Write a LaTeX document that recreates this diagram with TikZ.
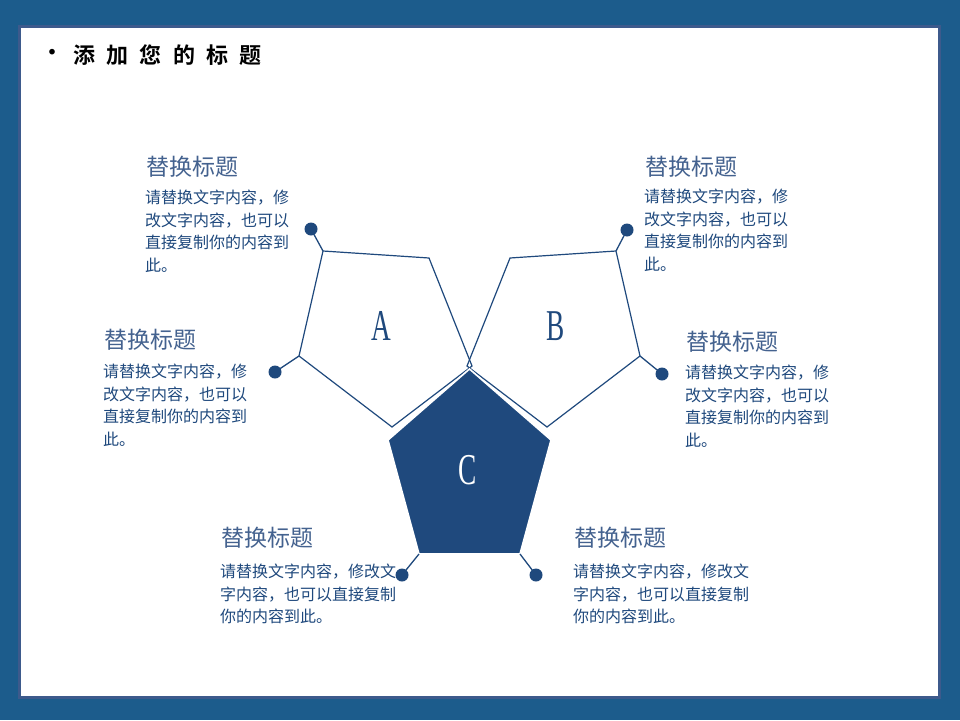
\documentclass[tikz,border=0pt]{standalone}
\usepackage{graphicx}
\usepackage{fontspec}
\setmainfont{Liberation Serif}
\newfontfamily\cjk[BoldFont={Noto Sans CJK SC Bold}]{Noto Sans CJK SC}
\definecolor{dblue}{HTML}{1F497D}
\definecolor{tblue}{HTML}{44628F}
\definecolor{bgblue}{HTML}{1C5C8C}
\definecolor{frameblue}{HTML}{3D5A8C}
\begin{document}
\begin{tikzpicture}[x=1pt,y=-1pt,
  every node/.style={inner sep=0pt,outer sep=0pt},
  pentline/.style={draw=dblue,line width=1.2pt,line join=miter},
  pentfill/.style={fill=dblue,draw=white,line width=1.6pt,line join=miter},
  dotnode/.style={circle,fill=dblue,minimum size=13pt},
  link/.style={draw=dblue,line width=1.3pt},
  ttl/.style={font=\cjk\fontsize{23}{27}\selectfont,text=tblue,anchor=west},
  bodytext/.style={font=\cjk\fontsize{16}{22.7}\selectfont,text=dblue,anchor=north west,align=left},
  letter/.style={font=\fontsize{44}{44}\selectfont}]
\useasboundingbox (0,0) rectangle (960,720);
% background
\fill[bgblue] (0,0) rectangle (960,720);
\fill[frameblue] (18,25) rectangle (941,699);
\fill[white] (21,28) rectangle (938,696);
% main title
\node[anchor=center,font=\cjk\bfseries\fontsize{22}{26}\selectfont] (bullet) at (52,55) {•};
\node[anchor=west,font=\cjk\bfseries\fontsize{22}{26}\selectfont] (maintitle) at (73,55)
  {\spaceskip=11.4pt 添 加 您 的 标 题};
% vertices
\coordinate (a1) at (323,251); \coordinate (a2) at (429,258); \coordinate (a3) at (472,366);
\coordinate (a4) at (392,427); \coordinate (a5) at (299,356);
\coordinate (b1) at (616,251); \coordinate (b2) at (510,258); \coordinate (b3) at (467,366);
\coordinate (b4) at (547,427); \coordinate (b5) at (640,356);
\coordinate (c1) at (469.5,369); \coordinate (c2) at (551,440); \coordinate (c3) at (520,554);
\coordinate (c4) at (419,554); \coordinate (c5) at (388,440);
% pentagons
\draw[pentline] (a1) -- (a2) -- (a3) -- (a4) -- (a5) -- cycle;
\draw[pentline] (b1) -- (b2) -- (b3) -- (b4) -- (b5) -- cycle;
\filldraw[pentfill] (c1) -- (c2) -- (c3) -- (c4) -- (c5) -- cycle;
\node[letter,text=dblue] (la) at (381,326) {\scalebox{0.62}[1]{A}};
\node[letter,text=dblue] (lb) at (556,326) {\scalebox{0.62}[1]{B}};
\node[letter,text=white] (lc) at (468,470) {\scalebox{0.62}[1]{C}};
% dots and links
\node[dotnode] (d1) at (311,229) {};
\node[dotnode] (d2) at (275,372) {};
\node[dotnode] (d3) at (627,230) {};
\node[dotnode] (d4) at (662,374) {};
\node[dotnode] (d5) at (402,575) {};
\node[dotnode] (d6) at (536,575) {};
\draw[link] (d1.center) -- (a1);
\draw[link] (d2.center) -- (a5);
\draw[link] (d3.center) -- (b1);
\draw[link] (d4.center) -- (b5);
\draw[link] (d5.center) -- (c4);
\draw[link] (d6.center) -- (c3);
% text blocks
\node[ttl] (t1) at (146,167) {替换标题};
\node[bodytext] (p1) at (145,190) {请替换文字内容，修\\改文字内容，也可以\\直接复制你的内容到\\此。};
\node[ttl] (t2) at (104,340) {替换标题};
\node[bodytext] (p2) at (103,364) {请替换文字内容，修\\改文字内容，也可以\\直接复制你的内容到\\此。};
\node[ttl] (t3) at (645,167) {替换标题};
\node[bodytext] (p3) at (644,189) {请替换文字内容，修\\改文字内容，也可以\\直接复制你的内容到\\此。};
\node[ttl] (t4) at (686,342) {替换标题};
\node[bodytext] (p4) at (685,365) {请替换文字内容，修\\改文字内容，也可以\\直接复制你的内容到\\此。};
\node[ttl] (t5) at (221,538) {替换标题};
\node[bodytext] (p5) at (220,564) {请替换文字内容，修改文\\字内容，也可以直接复制\\你的内容到此。};
\node[ttl] (t6) at (574,538) {替换标题};
\node[bodytext] (p6) at (573,564) {请替换文字内容，修改文\\字内容，也可以直接复制\\你的内容到此。};
\end{tikzpicture}
\end{document}
